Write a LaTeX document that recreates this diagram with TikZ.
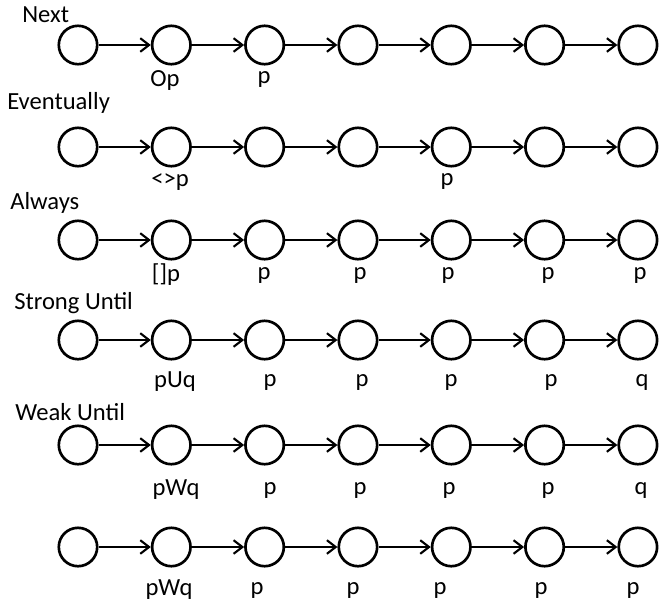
\documentclass[tikz,border=0pt]{standalone}
\usepackage{fontspec}
\setmainfont{Carlito}
\usepackage{tikz}
\usetikzlibrary{positioning,arrows.meta}

\begin{document}
\begin{tikzpicture}
	\tikzset{
		st/.style={circle, draw=black, line width=1.9pt, fill=white,
			minimum size=9.6mm, inner sep=0pt},
		tr/.style={draw=black, line width=1.5pt,
			-{Straight Barb[length=2.2mm, width=3.4mm, line width=1.5pt]}},
		lbl/.style={font=\fontsize{17.5}{20}\selectfont, inner sep=0pt},
		ttl/.style={font=\fontsize{17.5}{20}\selectfont, inner sep=0pt, anchor=west}
	}
	\useasboundingbox (0,0) rectangle (16.525,-15.125);

	% six traces, seven states each
	\foreach \r/\y in {1/-1.125, 2/-3.675, 3/-6.0, 4/-8.5, 5/-11.125, 6/-13.675}{
		\foreach \c in {1,...,7}{
			\node[st] (s\r\c) at ({1.95+2.333*(\c-1)}, \y) {};
		}
		\foreach \c [evaluate=\c as \n using int(\c+1)] in {1,...,6}{
			\draw[tr] (s\r\c) -- (s\r\n);
		}
	}

	% operator names
	\node[ttl] (tNext) at (0.55,-0.375) {Next};
	\node[ttl] (tEv) at (0.175,-2.575) {Eventually};
	\node[ttl] (tAlw) at (0.25,-5.075) {Always};
	\node[ttl] (tSU) at (0.35,-7.575) {Strong Until};
	\node[ttl] (tWU) at (0.375,-10.3) {Weak Until};

	% state labels
	\node[lbl] (a12) at (4.125,-2.0) {Op};
	\node[lbl] (a13) at (6.6,-2.0) {p};

	\node[lbl] (a22) at (4.25,-4.55) {<>p};
	\node[lbl] (a25) at (11.175,-4.55) {p};

	\node[lbl] (a32) at (4.15,-6.875) {[]p};
	\node[lbl] (a33) at (6.6,-6.875) {p};
	\node[lbl] (a34) at (9.0,-6.875) {p};
	\node[lbl] (a35) at (11.2,-6.875) {p};
	\node[lbl] (a36) at (13.7,-6.875) {p};
	\node[lbl] (a37) at (16.0,-6.875) {p};

	\node[lbl] (a42) at (4.375,-9.55) {pUq};
	\node[lbl] (a43) at (6.75,-9.55) {p};
	\node[lbl] (a44) at (9.05,-9.55) {p};
	\node[lbl] (a45) at (11.275,-9.55) {p};
	\node[lbl] (a46) at (13.775,-9.55) {p};
	\node[lbl] (a47) at (16.05,-9.55) {q};

	\node[lbl] (a52) at (4.4,-12.25) {pWq};
	\node[lbl] (a53) at (6.75,-12.25) {p};
	\node[lbl] (a54) at (9.0,-12.25) {p};
	\node[lbl] (a55) at (11.225,-12.25) {p};
	\node[lbl] (a56) at (13.7,-12.25) {p};
	\node[lbl] (a57) at (16.025,-12.25) {q};

	\node[lbl] (a62) at (4.225,-14.75) {pWq};
	\node[lbl] (a63) at (6.425,-14.75) {p};
	\node[lbl] (a64) at (8.825,-14.75) {p};
	\node[lbl] (a65) at (11.0,-14.75) {p};
	\node[lbl] (a66) at (13.525,-14.75) {p};
	\node[lbl] (a67) at (15.825,-14.75) {p};
\end{tikzpicture}
\end{document}
